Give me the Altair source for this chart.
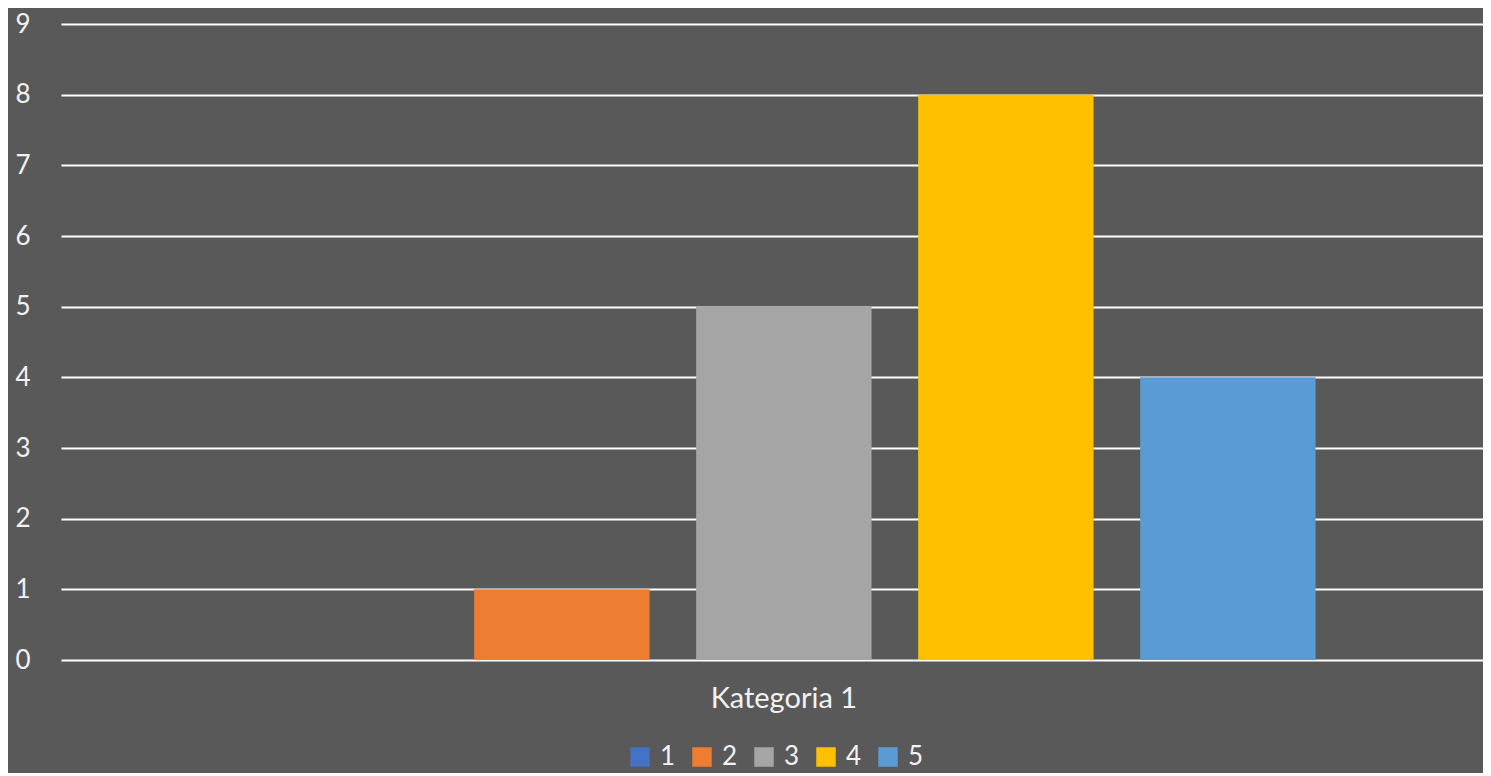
import altair as alt
import pandas as pd

categories = ["Kategoria 1"]
series = ["1", "2", "3", "4", "5"]
values = [0, 1, 5, 8, 4]
colors = ["#4472C4", "#ED7D31", "#A5A5A5", "#FFC000", "#5B9BD5"]
y_ticks = list(range(0, 10))

df = pd.DataFrame({
    "kategoria": [categories[0]] * len(series),
    "seria": series,
    "wartosc": values,
})

font = "Lato"
txt = "#F2F2F2"

chart = alt.Chart(df).mark_bar().encode(
    x=alt.X("kategoria:N",
            scale=alt.Scale(paddingInner=0, paddingOuter=0.1405, align=0.538),
            axis=alt.Axis(title=None, labelAngle=0, ticks=False, domain=False,
                          labelFontSize=29, labelColor=txt, labelFont=font,
                          labelPadding=24)),
    xOffset=alt.XOffset("seria:N", sort=series,
                        scale=alt.Scale(paddingInner=0.21, paddingOuter=0.105)),
    y=alt.Y("wartosc:Q",
            scale=alt.Scale(domain=[0, 9], nice=False),
            axis=alt.Axis(title=None, values=y_ticks, ticks=False, domain=False,
                          labelFontSize=26, labelColor=txt, labelFont=font,
                          labelPadding=31, gridColor="#FFFFFF", gridWidth=2,
                          gridOpacity=1)),
    color=alt.Color("seria:N", sort=series,
                    scale=alt.Scale(domain=series, range=colors),
                    legend=alt.Legend(title=None, orient="none", direction="horizontal",
                                      legendX=566, legendY=720,
                                      symbolType="square", symbolSize=380,
                                      symbolStrokeWidth=0, symbolOpacity=1,
                                      labelFontSize=26, labelColor=txt,
                                      labelFont=font, columnPadding=13,
                                      labelOffset=7)),
).properties(
    width=1422,
    height=636,
    background="#595959",
    autosize=alt.AutoSizeParams(type="none"),
    padding={"left": 53, "top": 16, "right": 0, "bottom": 113},
).configure_view(stroke=None)

chart.save("out.html", embed_options={"renderer": "svg", "actions": False})
